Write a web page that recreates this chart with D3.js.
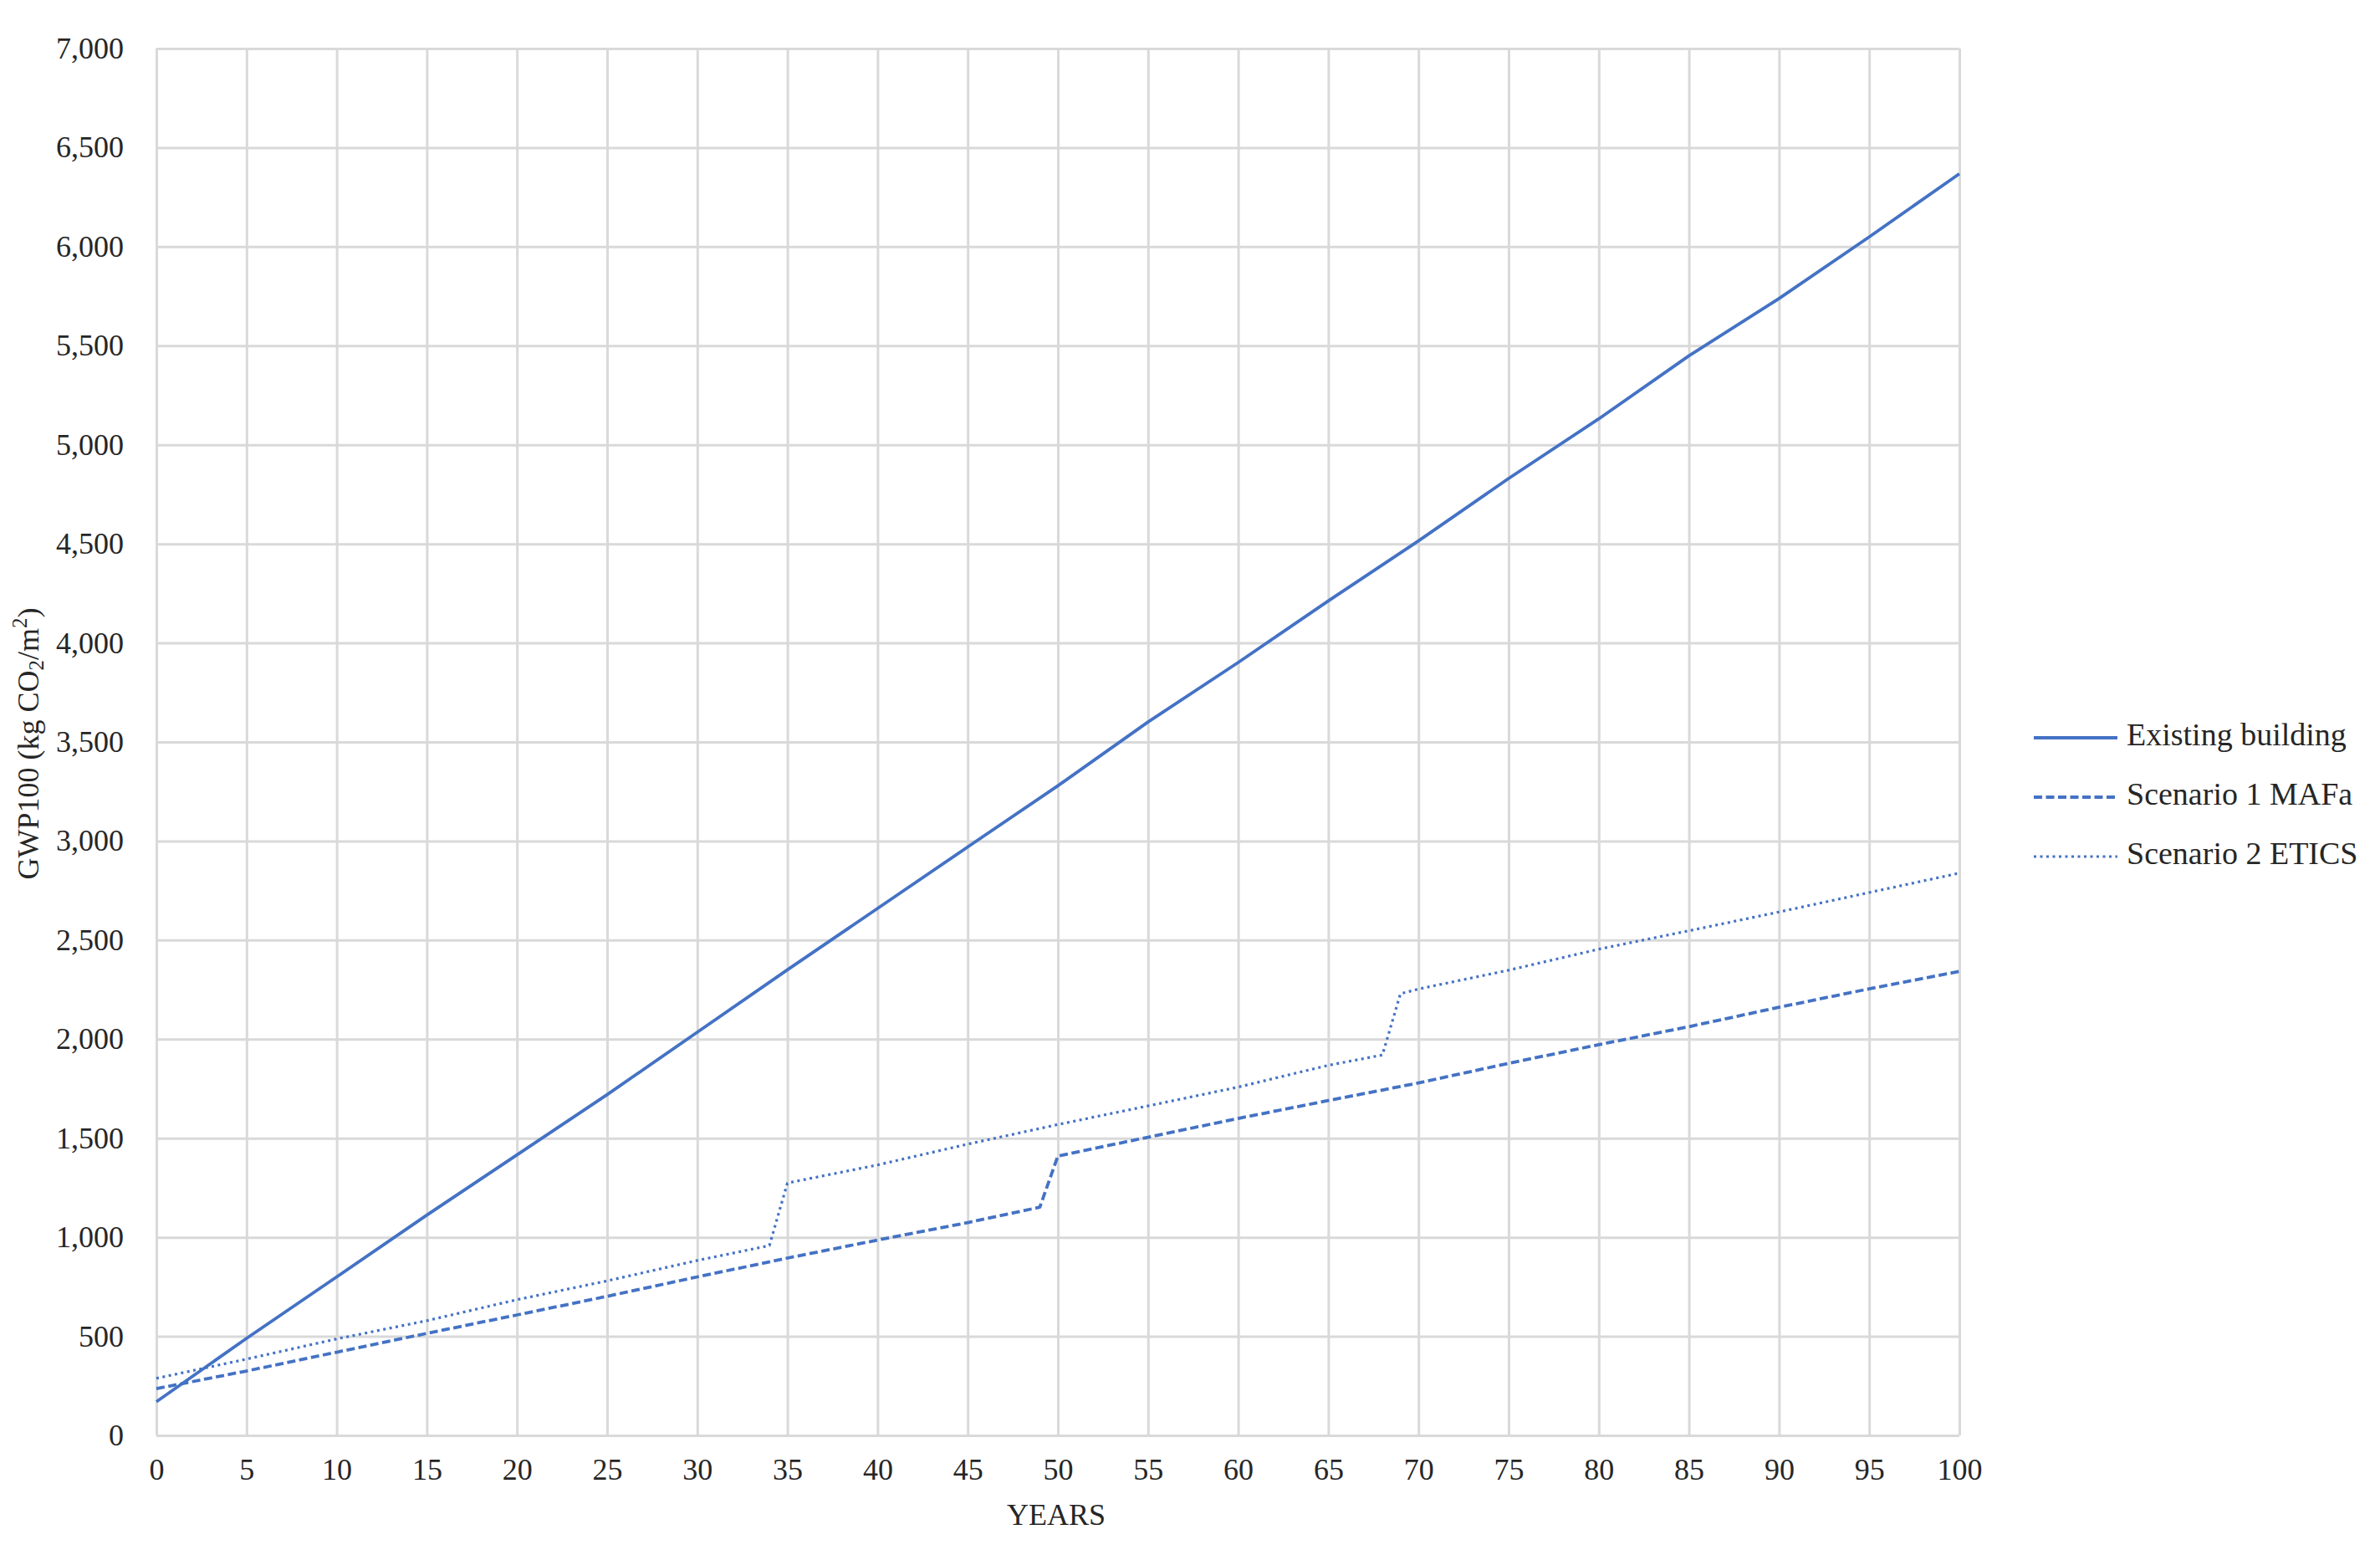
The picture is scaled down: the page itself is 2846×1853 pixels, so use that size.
<!DOCTYPE html>
<html>
<head>
<meta charset="utf-8">
<script src="https://cdn.jsdelivr.net/npm/d3@7"></script>
<style>
  html, body { margin: 0; padding: 0; background: #ffffff; }
  svg { display: block; }
  svg text { font-family: "Liberation Serif", "Times New Roman", serif !important; fill: #262626; }
</style>
</head>
<body>
<svg id="chart" width="2846" height="1853"></svg>
<script>
// ---- Data ----
const seriesNames = ["Existing building", "Scenario 1 MAFa", "Scenario 2 ETICS"];

const existingYears  = [0, 5, 10, 15, 20, 25, 30, 35, 40, 45, 50, 55, 60, 65, 70, 75, 80, 85, 90, 95, 100];
const existingValues = [170, 490, 800, 1112, 1416, 1720, 2035, 2350, 2660, 2970, 3279, 3601, 3901, 4212, 4515, 4830, 5131, 5449, 5738, 6049, 6368];

const mafaYears  = [0, 5, 10, 15, 20, 25, 30, 35, 40, 45, 49, 50, 55, 60, 65, 70, 75, 80, 85, 90, 95, 100];
const mafaValues = [236, 325, 420, 515, 608, 702, 800, 895, 986, 1074, 1152, 1410, 1505, 1600, 1690, 1779, 1878, 1972, 2063, 2161, 2254, 2342];

const eticsYears  = [0, 5, 10, 15, 20, 25, 30, 34, 35, 40, 45, 50, 55, 60, 65, 68, 69, 70, 75, 80, 85, 90, 95, 100];
const eticsValues = [288, 385, 487, 579, 685, 780, 883, 958, 1274, 1365, 1470, 1569, 1663, 1758, 1868, 1920, 2229, 2253, 2348, 2454, 2547, 2642, 2740, 2838];

const xTicks = [0,5,10,15,20,25,30,35,40,45,50,55,60,65,70,75,80,85,90,95,100];
const yTicks = [0,500,1000,1500,2000,2500,3000,3500,4000,4500,5000,5500,6000,6500,7000];

const xTitle = "YEARS";

// ---- Layout ----
const plotLeft = 187, plotRight = 2343, plotTop = 58, plotBottom = 1716;
const color = "#4472C4";
const gridColor = "#d9d9d9";
const fontSize = 36;

const svg = d3.select("#chart");
const x = d3.scaleLinear().domain([0, 100]).range([plotLeft, plotRight]);
const y = d3.scaleLinear().domain([0, 7000]).range([plotBottom, plotTop]);

// grid: vertical
const gx = svg.append("g")
  .attr("transform", `translate(0,${plotBottom})`)
  .call(d3.axisBottom(x).tickValues(xTicks).tickSize(-(plotBottom - plotTop)).tickPadding(27).tickFormat(d3.format("d")));
gx.attr("font-family", null).attr("font-size", null);
gx.select(".domain").remove();
gx.selectAll(".tick line").attr("stroke", gridColor).attr("stroke-width", 3);
gx.selectAll(".tick text").style("font-size", fontSize + "px").attr("fill", "#262626");

// grid: horizontal
const gy = svg.append("g")
  .attr("transform", `translate(${plotLeft},0)`)
  .call(d3.axisLeft(y).tickValues(yTicks).tickSize(-(plotRight - plotLeft)).tickPadding(39).tickFormat(d3.format(",")));
gy.attr("font-family", null).attr("font-size", null);
gy.select(".domain").remove();
gy.selectAll(".tick line").attr("stroke", gridColor).attr("stroke-width", 3);
gy.selectAll(".tick text").style("font-size", fontSize + "px").attr("fill", "#262626");

// ---- Lines ----
const line = d3.line().x(d => x(d[0])).y(d => y(d[1]));
const series = [
  { name: seriesNames[0], pts: d3.zip(existingYears, existingValues), dash: null, width: 3.8 },
  { name: seriesNames[1], pts: d3.zip(mafaYears, mafaValues), dash: "10,4.5", width: 3.8 },
  { name: seriesNames[2], pts: d3.zip(eticsYears, eticsValues), dash: "3,4.5", width: 3.2 }
];

series.forEach(s => {
  svg.append("path")
    .datum(s.pts)
    .attr("d", line)
    .attr("fill", "none")
    .attr("stroke", color)
    .attr("stroke-width", s.width)
    .attr("stroke-linejoin", "round")
    .attr("stroke-dasharray", s.dash);
});

// ---- Axis titles ----
svg.append("text")
  .attr("x", (plotLeft + plotRight) / 2 - 2)
  .attr("y", 1815)
  .attr("text-anchor", "middle")
  .attr("dominant-baseline", "middle")
  .style("font-size", fontSize + "px")
  .text(xTitle);

const yt = svg.append("text")
  .attr("transform", "translate(38,889) rotate(-90)")
  .attr("text-anchor", "middle")
  .attr("dominant-baseline", "middle")
  .style("font-size", fontSize + "px");
yt.append("tspan").text("GWP100 (kg CO");
yt.append("tspan").style("font-size", "25px").attr("dy", 8).text("2");
yt.append("tspan").attr("dy", -8).text("/m");
yt.append("tspan").style("font-size", "25px").attr("dy", -12).text("2");
yt.append("tspan").attr("dy", 12).text(")");

// ---- Legend ----
const legendY = [882, 953, 1024];
series.forEach((s, i) => {
  svg.append("line")
    .attr("x1", 2432).attr("x2", 2532)
    .attr("y1", legendY[i]).attr("y2", legendY[i])
    .attr("stroke", color)
    .attr("stroke-width", s.width)
    .attr("stroke-dasharray", s.dash);
  svg.append("text")
    .attr("x", 2543)
    .attr("y", legendY[i])
    .attr("dominant-baseline", "middle")
    .style("font-size", "38px")
    .text(s.name);
});
</script>
</body>
</html>
